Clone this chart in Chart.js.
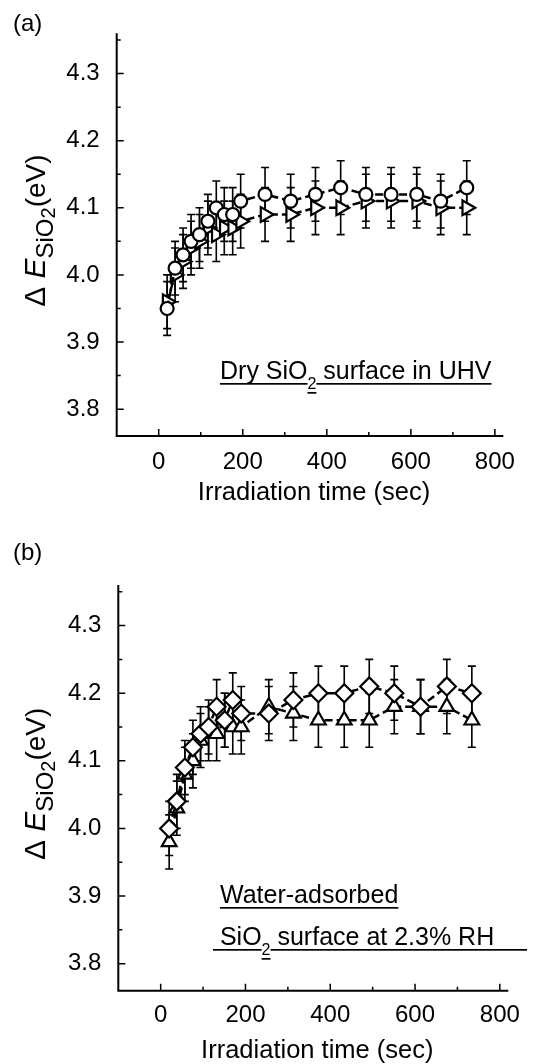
<!DOCTYPE html>
<html><head><meta charset="utf-8">
<script src="https://cdn.jsdelivr.net/npm/chart.js@4.4.1/dist/chart.umd.min.js"></script>
<style>
html,body{margin:0;padding:0;background:#fff;}
#wrap{position:relative;width:535px;height:1064px;overflow:hidden;background:#fff;}
canvas{position:absolute;left:0;}
</style></head><body>
<div id="wrap">
<canvas id="ca" width="535" height="530" style="top:0px"></canvas>
<canvas id="cb" width="535" height="534" style="top:530px"></canvas>
</div>
<script>
// ---------- data ----------
const timeDry = [20, 39, 58, 77, 97, 117, 137, 156, 176, 195, 253, 314, 373, 433, 493, 553, 614, 671, 733];
const dryCircle = [3.95, 4.01, 4.03, 4.05, 4.06, 4.08, 4.10, 4.09, 4.09, 4.11, 4.12, 4.11, 4.12, 4.13, 4.12, 4.12, 4.12, 4.11, 4.13];
const dryCircleErr = [0.04, 0.04, 0.04, 0.04, 0.04, 0.04, 0.04, 0.04, 0.04, 0.04, 0.04, 0.04, 0.04, 0.04, 0.04, 0.04, 0.04, 0.04, 0.04];
const dryTriangle = [3.96, 4.00, 4.02, 4.04, 4.05, 4.07, 4.06, 4.07, 4.07, 4.08, 4.09, 4.09, 4.10, 4.10, 4.11, 4.11, 4.11, 4.10, 4.10];
const dryTriangleErr = [0.04, 0.04, 0.04, 0.04, 0.04, 0.04, 0.04, 0.04, 0.04, 0.04, 0.04, 0.04, 0.04, 0.04, 0.04, 0.04, 0.04, 0.04, 0.04];

const timeWet = [20, 38, 57, 76, 94, 113, 132, 151, 170, 190, 255, 313, 372, 433, 492, 551, 613, 675, 734];
const wetDiamond = [4.00, 4.04, 4.09, 4.12, 4.14, 4.15, 4.18, 4.16, 4.19, 4.17, 4.17, 4.19, 4.20, 4.20, 4.21, 4.20, 4.18, 4.21, 4.20];
const wetDiamondErr = [0.04, 0.04, 0.04, 0.04, 0.04, 0.04, 0.04, 0.04, 0.04, 0.04, 0.04, 0.04, 0.04, 0.04, 0.04, 0.04, 0.04, 0.04, 0.04];
const wetTriangle = [3.98, 4.03, 4.08, 4.10, 4.13, 4.14, 4.14, 4.16, 4.15, 4.15, 4.18, 4.17, 4.16, 4.16, 4.16, 4.18, 4.18, 4.18, 4.16];
const wetTriangleErr = [0.04, 0.04, 0.04, 0.04, 0.04, 0.04, 0.04, 0.04, 0.04, 0.04, 0.04, 0.04, 0.04, 0.04, 0.04, 0.04, 0.04, 0.04, 0.04];

const yTickValues = [3.8, 3.9, 4.0, 4.1, 4.2, 4.3];
const yMinorValues = [3.85, 3.95, 4.05, 4.15, 4.25, 4.35];
const xTickValues = [0, 200, 400, 600, 800];
const xMinorValues = [100, 300, 500, 700];
const xTitle = 'Irradiation time (sec)';

// ---------- drawing helpers ----------
const FAMILY = "'Liberation Sans', Arial, Helvetica, sans-serif";
function setFont(ctx, r) { ctx.font = (r.italic ? 'italic ' : '') + r.size + 'px ' + FAMILY; }
function runsWidth(ctx, runs) {
  let w = 0;
  for (const r of runs) { setFont(ctx, r); w += ctx.measureText(r.t).width; }
  return w;
}
function drawRuns(ctx, runs, x, y, underline, underlineTo) {
  let cx = x;
  ctx.textBaseline = 'alphabetic';
  ctx.textAlign = 'left';
  for (const r of runs) {
    setFont(ctx, r);
    const w = ctx.measureText(r.t).width;
    const by = y + (r.dy || 0);
    ctx.fillText(r.t, cx, by);
    if (underline) {
      let ww = w;
      if (underlineTo && r === runs[runs.length - 1]) ww = Math.max(w, underlineTo - cx);
      ctx.fillRect(cx, by + Math.round(r.size * 0.1) + 1, ww, 1.7);
    }
    cx += w;
  }
}

const decor = {
  id: 'decor',
  beforeDatasetsDraw(chart) {
    const ctx = chart.ctx, ys = chart.scales.y;
    ctx.save();
    ctx.strokeStyle = '#000';
    ctx.lineWidth = 1.6;
    chart.data.datasets.forEach((ds, di) => {
      const meta = chart.getDatasetMeta(di);
      meta.data.forEach((pt, i) => {
        const v = ds.data[i].y, e = ds.errors[i];
        const y1 = ys.getPixelForValue(v + e), y2 = ys.getPixelForValue(v - e);
        ctx.beginPath();
        ctx.moveTo(pt.x, y1); ctx.lineTo(pt.x, y2);
        ctx.moveTo(pt.x - 4, y1); ctx.lineTo(pt.x + 4, y1);
        ctx.moveTo(pt.x - 4, y2); ctx.lineTo(pt.x + 4, y2);
        ctx.stroke();
      });
    });
    ctx.restore();
  },
  afterDraw(chart, args, o) {
    const ctx = chart.ctx, a = chart.chartArea, xs = chart.scales.x, ys = chart.scales.y;
    ctx.save();
    ctx.fillStyle = '#000';
    ctx.strokeStyle = '#000';
    // axes lines
    ctx.lineWidth = 2;
    ctx.beginPath();
    ctx.moveTo(a.left, a.top); ctx.lineTo(a.left, a.bottom); ctx.lineTo(a.right, a.bottom);
    ctx.stroke();
    // inward ticks
    ctx.lineWidth = 1.5;
    ctx.beginPath();
    yTickValues.forEach(v => { const p = ys.getPixelForValue(v); ctx.moveTo(a.left, p); ctx.lineTo(a.left + 7, p); });
    yMinorValues.forEach(v => { const p = ys.getPixelForValue(v); ctx.moveTo(a.left, p); ctx.lineTo(a.left + 4, p); });
    xTickValues.forEach(v => { const p = xs.getPixelForValue(v); ctx.moveTo(p, a.bottom); ctx.lineTo(p, a.bottom - 7); });
    xMinorValues.forEach(v => { const p = xs.getPixelForValue(v); ctx.moveTo(p, a.bottom); ctx.lineTo(p, a.bottom - 4); });
    ctx.stroke();
    // panel label
    drawRuns(ctx, [{ t: o.panel, size: 24 }], 13, o.panelY, false);
    // x title
    const xr = [{ t: xTitle, size: 25.5 }];
    const xw = runsWidth(ctx, xr);
    drawRuns(ctx, xr, (a.left + a.right) / 2 + 4 - xw / 2, o.xTitleY, false);
    // y title (rotated)
    const yr = [
      { t: '\u0394 ', size: 30 },
      { t: 'E', size: 30, italic: true },
      { t: 'SiO', size: 24, dy: 8 },
      { t: '2', size: 20, dy: 10 },
      { t: '(eV)', size: 28 }
    ];
    const yw = runsWidth(ctx, yr);
    ctx.save();
    ctx.translate(o.yTitleX, (a.top + a.bottom) / 2 - 4 + yw / 2);
    ctx.rotate(-Math.PI / 2);
    drawRuns(ctx, yr, 0, 0, false);
    ctx.restore();
    // annotations
    o.notes.forEach(n => drawRuns(ctx, n.runs, n.x, n.y, true, n.underlineTo));
    ctx.restore();
  }
};

function makePanel(id, H, area, series, times, o) {
  return new Chart(document.getElementById(id), {
    type: 'line',
    data: {
      datasets: series.map(s => ({
        data: times.map((t, i) => ({ x: t, y: s.values[i] })),
        errors: s.errors,
        borderColor: '#000', borderWidth: 2.5, borderDash: [8, 4],
        fill: false, tension: 0,
        pointStyle: s.style, rotation: s.rotation || 0,
        pointRadius: s.radius, pointHoverRadius: s.radius,
        pointBorderWidth: 2.2, pointBackgroundColor: '#fff', pointBorderColor: '#000'
      }))
    },
    options: {
      responsive: false, animation: false, devicePixelRatio: 1, events: [],
      layout: { padding: { top: area.top, right: 535 - area.right, bottom: 0, left: 0 } },
      plugins: { legend: { display: false }, tooltip: { enabled: false }, decor: o },
      scales: {
        x: {
          type: 'linear', min: -100, max: 820,
          grid: { display: false, drawTicks: false }, border: { display: false },
          ticks: { color: '#000', font: { family: FAMILY, size: 24 }, padding: o.xPad, maxRotation: 0 },
          afterBuildTicks: s => { s.ticks = xTickValues.map(v => ({ value: v })); },
          afterFit: s => { s.height = H - area.bottom; }
        },
        y: {
          type: 'linear', min: 3.76, max: 4.36,
          grid: { display: false, drawTicks: false }, border: { display: false },
          ticks: { color: '#000', font: { family: FAMILY, size: 24 }, padding: 17, callback: v => Number(v).toFixed(1) },
          afterBuildTicks: s => { s.ticks = yTickValues.map(v => ({ value: v })); },
          afterFit: s => { s.width = area.left; }
        }
      }
    },
    plugins: [decor]
  });
}

makePanel('ca', 530, { left: 116.7, right: 503.3, top: 33.3, bottom: 436 },
  [
    { values: dryCircle, errors: dryCircleErr, style: 'circle', radius: 6.5 },
    { values: dryTriangle, errors: dryTriangleErr, style: 'triangle', rotation: 90, radius: 8.5 }
  ], timeDry,
  {
    panel: '(a)', panelY: 31, xTitleY: 500, yTitleX: 45, xPad: 12,
    notes: [
      { x: 220, y: 379, runs: [{ t: 'Dry SiO', size: 25 }, { t: '2', size: 16, dy: 10 }, { t: ' surface in UHV', size: 25 }] }
    ]
  });

makePanel('cb', 534, { left: 118.3, right: 508.3, top: 55, bottom: 460.7 },
  [
    { values: wetDiamond, errors: wetDiamondErr, style: 'rectRot', radius: 9 },
    { values: wetTriangle, errors: wetTriangleErr, style: 'triangle', radius: 8.5 }
  ], timeWet,
  {
    panel: '(b)', panelY: 30, xTitleY: 528, yTitleX: 45, xPad: 10,
    notes: [
      { x: 220, y: 373, runs: [{ t: 'Water-adsorbed', size: 25 }] },
      { x: 213, y: 415, underlineTo: 527, runs: [{ t: ' SiO', size: 25 }, { t: '2', size: 16, dy: 10 }, { t: ' surface at 2.3% RH', size: 25 }] }
    ]
  });
</script>
</body></html>
